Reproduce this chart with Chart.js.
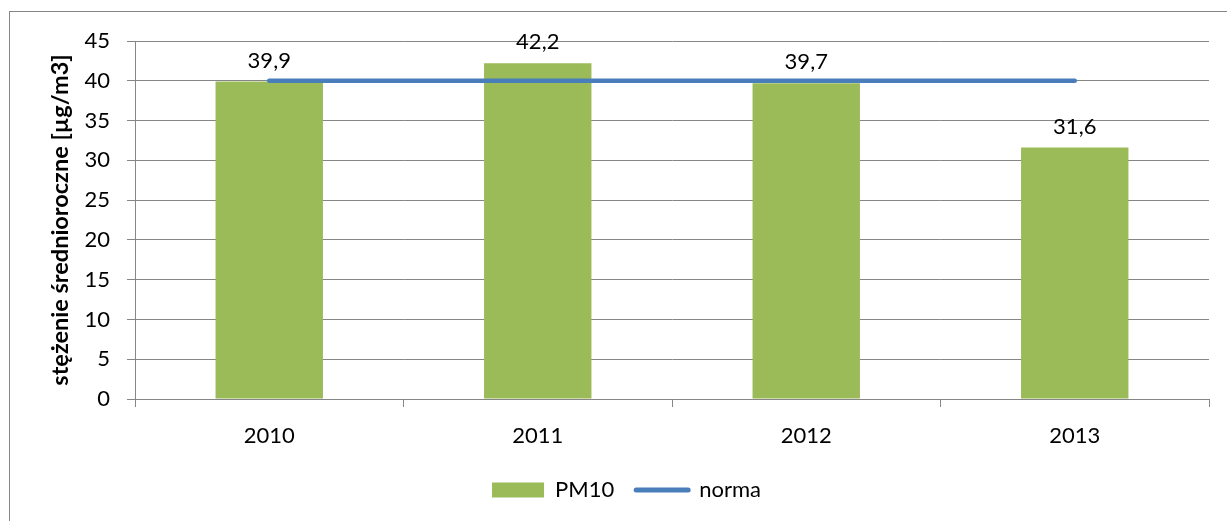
<!DOCTYPE html>
<html>
<head>
<meta charset="utf-8">
<script src="https://cdn.jsdelivr.net/npm/chart.js@4/dist/chart.umd.min.js"></script>
<style>
  html, body { margin: 0; padding: 0; background: #fff; overflow: hidden; }
  #wrap { width: 1227px; height: 521px; }
</style>
</head>
<body>
<div id="wrap"><canvas id="myChart"></canvas></div>
<script>
const years = ["2010", "2011", "2012", "2013"];
const pm10 = [39.9, 42.2, 39.7, 31.6];
const norma = [40, 40, 40, 40];
const yTicks = [0, 5, 10, 15, 20, 25, 30, 35, 40, 45];

const FONT = "Lato, 'Open Sans', sans-serif";
const GRID = "#868686";

// ramka wokół wykresu
const frame = {
  id: "frame",
  beforeDraw(chart) {
    const c = chart.ctx;
    c.save();
    c.strokeStyle = GRID;
    c.lineWidth = 1;
    c.strokeRect(9.5, 11.5, 1400, 700);
    c.restore();
  },
};

// legenda trochę w prawo, jak w oryginale
const legendShift = {
  id: "legendShift",
  afterLayout(chart) {
    if (chart.legend) {
      chart.legend.left += 22;
      chart.legend.right += 22;
    }
  },
};

// etykiety wartości nad słupkami
const barLabels = {
  id: "barLabels",
  afterDatasetsDraw(chart) {
    const c = chart.ctx;
    const meta = chart.getDatasetMeta(0);
    c.save();
    c.font = "22px " + FONT;
    c.fillStyle = "#000";
    c.textAlign = "center";
    c.textBaseline = "middle";
    meta.data.forEach((bar, i) => {
      const txt = pm10[i].toFixed(1).replace(".", ",");
      c.fillText(txt, bar.x, bar.y - 21);
    });
    c.restore();
  },
};

const ctx = document.getElementById("myChart");
new Chart(ctx, {
  data: {
    labels: years,
    datasets: [
      {
        type: "bar",
        label: "PM10",
        data: pm10,
        backgroundColor: "#9BBB59",
        borderWidth: 0,
        barPercentage: 0.4,
        categoryPercentage: 1,
        order: 1,
      },
      {
        type: "line",
        label: "norma",
        data: norma,
        borderColor: "#4A7EBB",
        borderWidth: 4.5,
        borderCapStyle: "round",
        pointRadius: 0,
        order: 0,
      },
    ],
  },
  options: {
    responsive: true,
    maintainAspectRatio: false,
    animation: false,
    layout: {
      padding: { left: 0, top: 41, right: 18, bottom: 10 },
    },
    plugins: {
      tooltip: { enabled: false },
      legend: {
        position: "bottom",
        labels: {
          usePointStyle: true,
          pointStyleWidth: 52,
          boxHeight: 15,
          padding: 22,
          color: "#000",
          font: { family: FONT, size: 22 },
          generateLabels(chart) {
            return chart.data.datasets.map((ds, i) => ({
              text: ds.label,
              datasetIndex: i,
              pointStyle: ds.type === "bar" ? "rect" : "line",
              fillStyle: ds.type === "bar" ? ds.backgroundColor : ds.borderColor,
              strokeStyle: ds.type === "bar" ? ds.backgroundColor : ds.borderColor,
              lineWidth: ds.type === "bar" ? 0 : 5,
              lineCap: "round",
              fontColor: "#000",
            }));
          },
        },
      },
    },
    scales: {
      x: {
        grid: {
          display: true,
          drawOnChartArea: false,
          drawTicks: true,
          tickLength: 8,
          color: GRID,
          offset: true,
        },
        border: { color: GRID, width: 1 },
        ticks: {
          color: "#000",
          padding: 16,
          font: { family: FONT, size: 22 },
        },
        afterFit(scale) {
          scale.height = 58;
        },
      },
      y: {
        min: 0,
        max: 45,
        afterBuildTicks(scale) {
          scale.ticks = yTicks.map((v) => ({ value: v }));
        },
        grid: {
          color: GRID,
          tickLength: 8,
        },
        border: { color: GRID, width: 1 },
        ticks: {
          color: "#000",
          padding: 17,
          font: { family: FONT, size: 22 },
        },
        title: {
          display: true,
          text: "stężenie średnioroczne [µg/m3]",
          color: "#000",
          font: { family: FONT, size: 23.5, weight: "bold" },
          padding: { top: 46, bottom: 0 },
        },
        afterFit(scale) {
          scale.width = 135;
        },
      },
    },
  },
  plugins: [frame, legendShift, barLabels],
});
</script>
</body>
</html>
